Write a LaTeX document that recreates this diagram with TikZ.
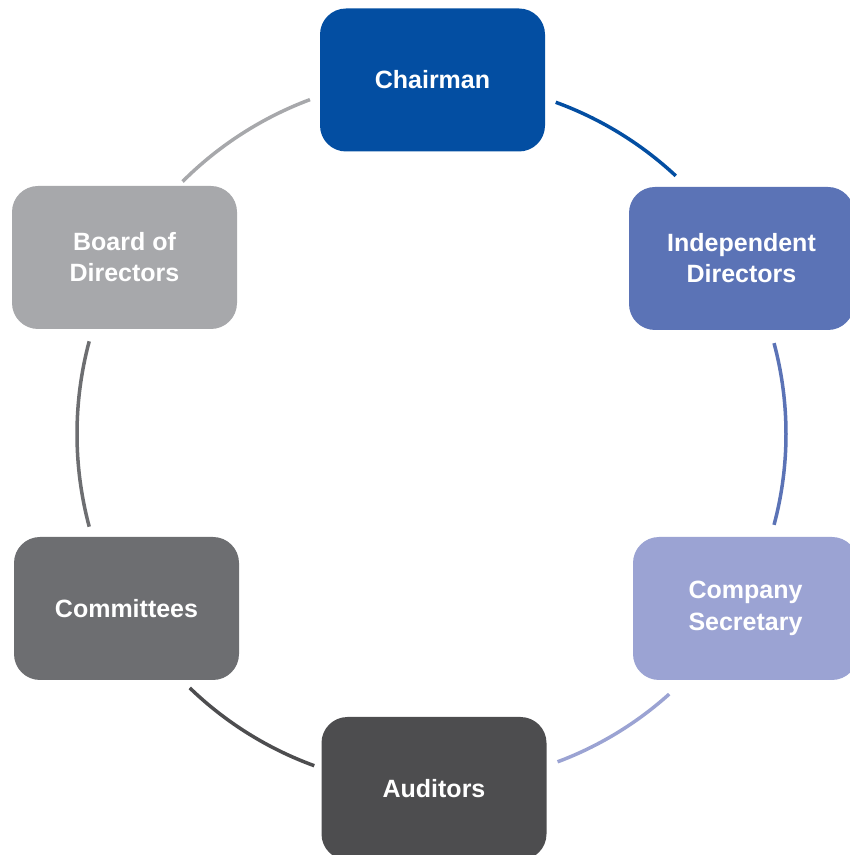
\documentclass[tikz,border=0pt]{standalone}
\usepackage{fontspec}
\setmainfont{Liberation Sans}
\definecolor{cChair}{HTML}{034EA2}
\definecolor{cIndep}{HTML}{5B73B6}
\definecolor{cSec}{HTML}{9BA3D3}
\definecolor{cAud}{HTML}{4D4D4F}
\definecolor{cComm}{HTML}{6D6E71}
\definecolor{cBoard}{HTML}{A7A8AB}
\begin{document}
\begin{tikzpicture}[x=1pt,y=1pt,
  box/.style={rounded corners=26pt, minimum width=225pt, minimum height=143pt,
    text=white, font=\fontsize{25}{31}\selectfont\bfseries, align=center, inner sep=0pt},
  link/.style={line width=3.5pt}]
\useasboundingbox (0,0) rectangle (850,855);
\clip (0,0) rectangle (850,855);
\coordinate (ctr) at (435,421);
\node[box, fill=cChair] (chair) at (432.5,775) {Chairman};
\node[box, fill=cIndep] (indep) at (741.5,596.5) {Independent\\Directors};
\node[box, fill=cSec] (sec) at (745.5,246.5) {\raisebox{-6pt}{\shortstack{Company\\[6pt]Secretary}}};
\node[box, fill=cAud] (aud) at (434,66.5) {\raisebox{-2pt}{Auditors}};
\node[box, fill=cComm] (comm) at (126.5,246.5) {Committees};
\node[box, fill=cBoard] (board) at (124.5,597.5) {Board of\\Directors};
\draw[link, cChair] ([shift={(70:353pt)}]ctr) arc[start angle=70, end angle=47, radius=353pt];
\draw[link, cIndep] ([shift={(15:351pt)}]ctr) arc[start angle=15, end angle=-15, radius=351pt];
\draw[link, cSec] ([shift={(-48:350pt)}]ctr) arc[start angle=-48, end angle=-69.5, radius=350pt];
\draw[link, cAud] ([shift={(-110:353pt)}]ctr) arc[start angle=-110, end angle=-134, radius=353pt];
\draw[link, cComm] ([shift={(-165:358pt)}]ctr) arc[start angle=-165, end angle=-195, radius=358pt];
\draw[link, cBoard] ([shift={(135:357pt)}]ctr) arc[start angle=135, end angle=110.5, radius=357pt];
\end{tikzpicture}
\end{document}
